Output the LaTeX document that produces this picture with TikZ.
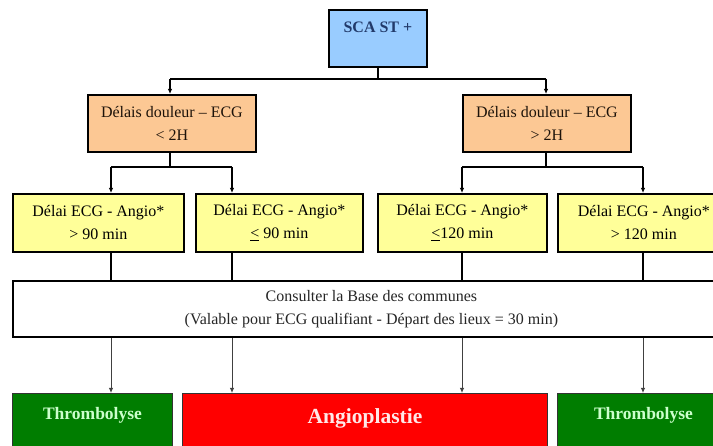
\documentclass[tikz,border=0pt]{standalone}
\usepackage{fontspec}
\setmainfont{Liberation Serif}
\usetikzlibrary{arrows.meta}
\definecolor{scablue}{HTML}{99CCFF}
\definecolor{orangebox}{HTML}{FCC894}
\definecolor{yellowbox}{HTML}{FFFF99}
\definecolor{greenbox}{HTML}{007D00}
\definecolor{redbox}{HTML}{FF0000}
\definecolor{scatext}{HTML}{223A6A}
\definecolor{lightgreen}{HTML}{CCFFCC}
\definecolor{pinkwhite}{HTML}{FFE8E8}
\definecolor{greyline}{HTML}{404040}
\tikzset{
  box/.style={draw=black, line width=1.8pt, inner sep=0pt, align=center, anchor=north west,
    font=\fontsize{16}{23}\selectfont},
  outbox/.style={draw=black!80, line width=1pt, inner sep=0pt, align=center, anchor=north west},
  link/.style={draw=black, line width=1.5pt},
  arr/.style={draw=black, line width=1.3pt, -{Latex[length=5pt,width=4.5pt]}},
  arrthin/.style={draw=greyline, line width=0.9pt, -{Latex[length=5pt,width=4.5pt]}}
}
\begin{document}
\begin{tikzpicture}[x=1pt,y=-1pt]
\useasboundingbox (0,0) rectangle (713,446);
\clip (0,0) rectangle (713,446);
% boxes
\node[box, fill=scablue, text=scatext, minimum width=98pt, minimum height=57pt,
      text height=11pt, text depth=22pt] (sca) at (328,9) {\bfseries SCA ST +};
\node[box, fill=orangebox, text=black!85!brown, minimum width=168pt, minimum height=57pt] (o1) at (87,94)
  {Délais douleur – ECG\\ < 2H};
\node[box, fill=orangebox, text=black!85!brown, minimum width=168pt, minimum height=57pt] (o2) at (462,94)
  {Délais douleur – ECG\\ > 2H};
\node[box, fill=yellowbox, minimum width=171pt, minimum height=58pt] (y1) at (12,193)
  {Délai ECG - Angio*\\ > 90 min};
\node[box, fill=yellowbox, minimum width=167pt, minimum height=58pt] (y2) at (195,193)
  {Délai ECG - Angio*\\ \underline{<} 90 min};
\node[box, fill=yellowbox, minimum width=169pt, minimum height=58pt] (y3) at (377,193)
  {Délai ECG - Angio*\\ \underline{<}120 min};
\node[box, fill=yellowbox, minimum width=172pt, minimum height=58pt] (y4) at (557,193)
  {Délai ECG - Angio*\\ > 120 min};
\node[box, fill=white, text=black!85, minimum width=717pt, minimum height=56pt] (wb) at (12,280)
  {Consulter la Base des communes\\ (Valable pour ECG qualifiant - Départ des lieux = 30 min)};
\node[outbox, fill=greenbox, text=lightgreen, minimum width=160pt, minimum height=70pt,
      font=\fontsize{17.5}{20}\selectfont\bfseries, text height=12pt, text depth=30pt] (g1) at (12,393) {Thrombolyse};
\node[outbox, fill=redbox, text=pinkwhite, minimum width=365pt, minimum height=70pt,
      font=\fontsize{21.5}{24}\selectfont\bfseries, text height=15pt, text depth=25pt] (rd) at (182,393) {Angioplastie};
\node[outbox, fill=greenbox, text=lightgreen, minimum width=172pt, minimum height=70pt,
      font=\fontsize{17.5}{20}\selectfont\bfseries, text height=12pt, text depth=30pt] (g2) at (557,393) {Thrombolyse};
% junction coordinates
\coordinate (bar) at (0,79);
\coordinate (j1) at (170,79);
\coordinate (j2) at (546,79);
\coordinate (a1) at (111,167);
\coordinate (a2) at (232,167);
\coordinate (a3) at (462,167);
\coordinate (a4) at (643,167);
% top level
\draw[link] (sca.south) -- (sca.south |- bar);
\draw[link] (j1) -- (j2);
\draw[arr] (j1) -- (j1 |- o1.north);
\draw[arr] (j2) -- (j2 |- o2.north);
% orange to yellow
\draw[link] (j1 |- o1.south) -- (j1 |- a1);
\draw[link] (a1) -- (a2);
\draw[arr] (a1) -- (a1 |- y1.north);
\draw[arr] (a2) -- (a2 |- y2.north);
\draw[link] (j2 |- o2.south) -- (j2 |- a3);
\draw[link] (a3) -- (a4);
\draw[arr] (a3) -- (a3 |- y3.north);
\draw[arr] (a4) -- (a4 |- y4.north);
% yellow to white box
\draw[link] (a1 |- y1.south) -- (a1 |- wb.north);
\draw[link] (a2 |- y2.south) -- (a2 |- wb.north);
\draw[link] (a3 |- y3.south) -- (a3 |- wb.north);
\draw[link] (a4 |- y4.south) -- (a4 |- wb.north);
% white box to outcomes
\draw[arrthin] (a1 |- wb.south) -- (a1 |- g1.north);
\draw[arrthin] (a2 |- wb.south) -- (a2 |- rd.north);
\draw[arrthin] (a3 |- wb.south) -- (a3 |- rd.north);
\draw[arrthin] (a4 |- wb.south) -- (a4 |- g2.north);
\end{tikzpicture}
\end{document}
